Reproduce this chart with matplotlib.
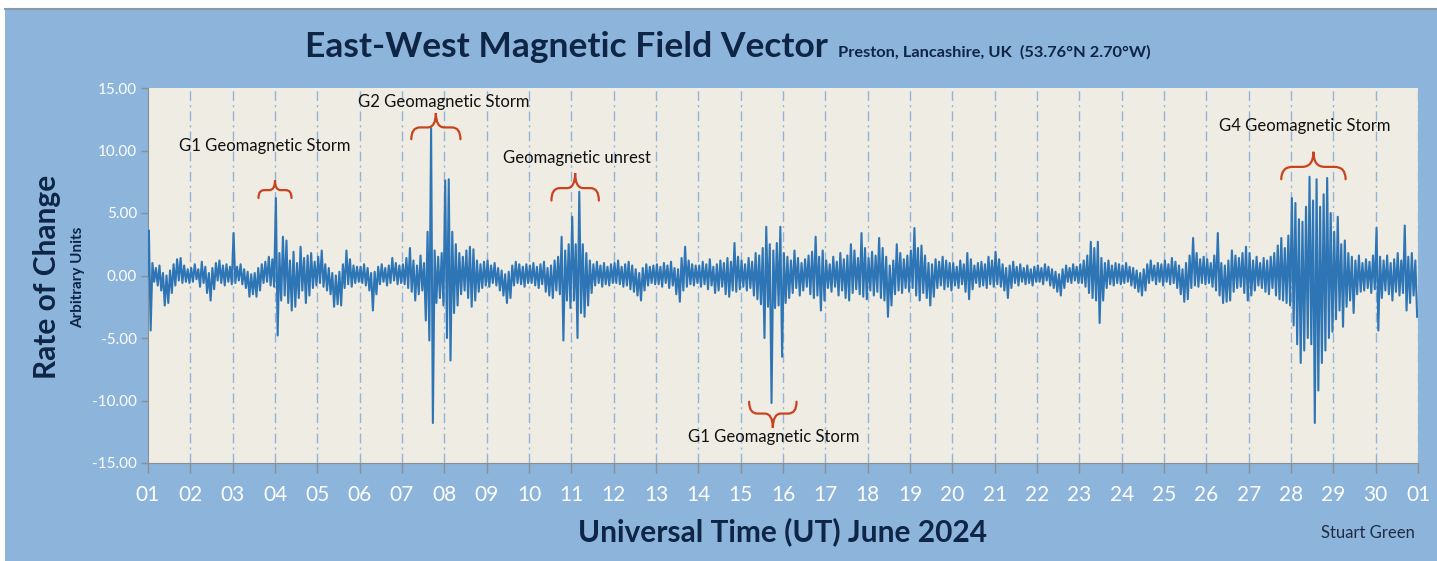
"""East-West magnetic field rate of change, Preston, June 2024."""

import matplotlib.pyplot as plt
import numpy as np
from matplotlib.patches import PathPatch, Rectangle
from matplotlib.path import Path


day_labels = [f"{d:02d}" for d in range(1, 31)] + ["01"]
y_ticks = [15, 10, 5, 0, -5, -10, -15]

# upper swing of the trace in each 2-hour slot (12 slots per day)
high = [
    [3.6, 1.0, 0.6, 0.8, 0.2, 0.0, 0.4, 0.9, 1.3, 1.4, 0.8, 0.5],    # 01
    [0.6, 0.9, 0.5, 1.1, 0.7, 0.2, 0.6, 1.0, 1.2, 0.8, 0.9, 0.7],    # 02
    [3.4, 0.7, 0.9, 0.5, 0.3, 0.1, 0.2, 0.6, 0.9, 1.1, 1.5, 1.3],    # 03
    [6.2, 1.8, 3.1, 2.8, 1.2, 1.9, 1.0, 2.3, 1.4, 1.6, 1.8, 1.1],    # 04
    [1.5, 2.0, 0.9, 0.6, 0.2, 0.0, 0.3, 0.9, 2.0, 1.3, 0.8, 0.7],    # 05
    [0.7, 0.9, 0.6, 0.2, 0.3, 0.7, 0.9, 0.6, 0.8, 1.4, 1.0, 0.8],    # 06
    [0.9, 1.4, 2.2, 1.2, 0.8, 1.6, 1.0, 3.5, 11.8, 2.0, 1.5, 1.8],   # 07
    [7.6, 7.7, 3.5, 2.5, 1.8, 1.5, 2.0, 2.3, 2.1, 1.2, 0.9, 1.1],    # 08
    [1.2, 0.8, 1.0, 0.6, 0.4, 0.1, 0.3, 0.8, 1.1, 0.9, 0.7, 0.9],    # 09
    [0.8, 1.0, 0.7, 0.9, 1.1, 0.6, 0.8, 1.2, 1.5, 3.1, 2.0, 2.5],    # 10
    [4.7, 2.5, 6.7, 2.5, 1.8, 1.2, 0.9, 1.1, 0.8, 1.0, 0.7, 0.9],    # 11
    [1.0, 1.2, 0.7, 0.9, 1.1, 0.8, 0.5, 0.2, 0.6, 0.9, 0.7, 0.8],    # 12
    [0.9, 0.7, 1.0, 0.8, 1.1, 0.6, 0.5, 1.4, 2.3, 1.2, 0.9, 0.8],    # 13
    [0.8, 1.1, 0.9, 1.3, 0.7, 0.9, 1.2, 1.0, 1.4, 1.1, 2.6, 1.5],    # 14
    [1.2, 0.9, 1.4, 1.1, 1.8, 1.6, 2.2, 3.9, 2.5, 2.0, 2.6, 3.9],    # 15
    [1.8, 1.5, 1.2, 2.0, 1.4, 1.0, 1.3, 1.6, 1.9, 3.1, 1.5, 2.0],    # 16
    [1.2, 0.9, 1.5, 1.1, 1.8, 1.3, 1.6, 2.5, 2.0, 1.4, 3.4, 2.2],    # 17
    [1.4, 1.9, 1.6, 3.0, 2.2, 1.5, 0.8, 1.2, 2.5, 1.8, 1.3, 1.6],    # 18
    [2.0, 3.8, 2.2, 2.4, 1.6, 1.0, 0.9, 1.3, 1.1, 1.5, 1.2, 1.0],    # 19
    [1.0, 0.7, 1.2, 0.9, 1.8, 1.3, 0.8, 1.0, 1.1, 0.9, 1.5, 1.2],    # 20
    [1.9, 1.3, 0.9, 0.6, 0.8, 1.1, 0.7, 0.9, 0.6, 0.8, 0.5, 0.7],    # 21
    [0.8, 0.6, 0.9, 0.7, 0.5, 0.3, 0.1, 0.5, 0.8, 0.6, 0.9, 0.7],    # 22
    [0.9, 1.2, 1.6, 2.7, 2.2, 2.7, 1.4, 1.0, 1.2, 0.8, 1.0, 0.9],    # 23
    [0.8, 1.0, 0.7, 0.6, 0.4, 0.2, 0.5, 0.9, 1.2, 0.8, 1.0, 0.9],    # 24
    [1.2, 0.9, 1.4, 1.1, 0.8, 0.5, 1.0, 1.6, 3.0, 1.8, 1.3, 1.5],    # 25
    [1.3, 1.0, 1.6, 3.4, 1.0, 0.8, 1.2, 2.0, 1.6, 1.4, 1.8, 2.3],    # 26
    [1.8, 1.2, 1.5, 1.0, 1.4, 1.2, 1.5, 1.8, 2.4, 3.0, 2.2, 3.2],    # 27
    [6.2, 5.8, 4.5, 4.3, 5.5, 7.9, 6.0, 7.7, 5.5, 6.5, 7.8, 5.0],    # 28
    [3.5, 4.7, 2.5, 2.8, 1.8, 1.5, 1.2, 1.6, 1.0, 1.3, 1.1, 1.6],    # 29
    [3.8, 1.5, 1.2, 1.6, 1.0, 1.3, 1.8, 1.2, 4.0, 1.5, 1.8, 1.2],    # 30
]

# lower swing of the trace in the same slots
low = [
    [-4.4, -0.5, -0.8, -1.2, -2.4, -2.2, -1.4, -0.8, -0.4, -0.6, -0.5, -0.6],
    [-0.5, -0.3, -0.9, -0.6, -1.4, -2.0, -1.1, -0.4, -0.6, -0.8, -0.5, -0.7],
    [-0.6, -0.4, -0.7, -1.0, -1.7, -1.5, -1.7, -1.2, -0.6, -0.5, -0.8, -0.9],
    [-4.8, -2.0, -1.6, -2.2, -2.8, -2.5, -1.8, -1.2, -2.2, -1.6, -1.0, -0.8],
    [-0.6, -0.9, -1.2, -1.5, -2.5, -2.3, -2.4, -1.0, -0.7, -0.9, -0.6, -0.5],
    [-0.6, -0.8, -1.2, -2.8, -1.5, -0.7, -0.5, -0.8, -0.6, -0.4, -0.7, -0.6],
    [-0.7, -1.0, -1.3, -2.0, -1.5, -1.2, -3.6, -5.2, -11.8, -2.2, -1.8, -2.4],
    [-5.0, -6.8, -3.0, -2.4, -1.5, -1.2, -1.8, -2.5, -2.0, -1.3, -1.0, -0.8],
    [-0.9, -0.6, -0.8, -1.2, -1.6, -2.2, -1.8, -0.8, -0.6, -0.7, -0.9, -0.6],
    [-0.6, -0.8, -1.0, -0.7, -1.3, -1.6, -1.8, -1.2, -1.5, -5.2, -2.0, -2.6],
    [-2.0, -5.0, -3.0, -3.3, -2.4, -1.4, -0.8, -0.6, -0.9, -0.7, -0.8, -0.6],
    [-0.6, -0.7, -0.9, -0.8, -1.1, -1.3, -1.6, -2.0, -1.2, -0.8, -0.6, -0.7],
    [-0.7, -0.9, -0.6, -1.0, -0.8, -1.5, -2.1, -1.2, -0.9, -0.7, -0.8, -0.6],
    [-0.9, -0.7, -1.1, -0.8, -1.4, -1.2, -0.9, -1.5, -1.7, -1.2, -1.3, -1.1],
    [-0.9, -1.2, -1.0, -1.6, -1.9, -2.3, -5.0, -2.5, -10.2, -2.6, -2.4, -6.5],
    [-2.2, -1.8, -1.4, -1.0, -1.6, -1.2, -0.9, -1.5, -1.8, -1.6, -2.8, -2.0],
    [-1.0, -1.3, -0.9, -1.6, -1.2, -1.8, -2.0, -1.4, -1.1, -1.5, -1.7, -1.9],
    [-1.2, -1.6, -1.3, -1.8, -2.0, -3.3, -2.4, -1.5, -1.2, -1.4, -1.0, -1.3],
    [-1.0, -1.6, -2.0, -1.4, -1.8, -2.4, -1.7, -1.0, -0.8, -1.1, -0.9, -1.2],
    [-0.8, -1.0, -0.7, -1.3, -1.9, -1.1, -0.6, -0.9, -0.8, -1.0, -0.7, -0.9],
    [-0.7, -0.9, -1.2, -1.8, -1.0, -0.6, -0.8, -0.5, -0.7, -0.6, -0.8, -0.5],
    [-0.5, -0.7, -0.4, -0.8, -1.0, -1.3, -1.6, -1.0, -0.5, -0.6, -0.4, -0.6],
    [-0.6, -0.9, -1.4, -1.8, -2.0, -3.8, -2.0, -1.0, -0.7, -0.8, -0.6, -0.7],
    [-0.6, -0.5, -0.8, -1.0, -1.3, -1.6, -1.2, -0.6, -0.4, -0.7, -0.5, -0.8],
    [-0.5, -0.7, -0.6, -1.0, -1.5, -2.1, -1.9, -1.0, -0.8, -0.9, -0.6, -0.7],
    [-0.6, -0.9, -1.2, -1.6, -2.2, -2.1, -2.0, -1.3, -1.0, -0.9, -1.4, -2.0],
    [-1.6, -1.2, -0.8, -1.0, -1.3, -1.5, -1.0, -1.6, -1.9, -2.0, -2.2, -2.4],
    [-4.0, -5.5, -7.0, -6.0, -5.0, -5.5, -11.8, -9.2, -7.0, -6.0, -5.0, -4.5],
    [-3.5, -2.8, -4.1, -2.5, -2.0, -3.0, -1.5, -1.3, -1.2, -1.0, -1.4, -1.1],
    [-4.4, -1.8, -1.2, -1.5, -2.0, -1.3, -1.6, -1.4, -2.8, -2.2, -1.6, -3.3],
]

event_labels = [
    "G1 Geomagnetic Storm",
    "G2 Geomagnetic Storm",
    "Geomagnetic unrest",
    "G1 Geomagnetic Storm",
    "G4 Geomagnetic Storm",
]

NAVY = "#0e2545"
BLUE_BG = "#8db4da"
PLOT_BG = "#efece3"
TRACE = "#2e75b6"
BRACE = "#c8431e"
GRID = "#93b3d8"

plt.rcParams["font.family"] = ["Lato", "DejaVu Sans"]

W, H = 1437, 561
SLOTS = 12


def fx(px):
    return px / W


def fy(py):
    return 1 - py / H


def draw_brace(ax, cx, half, y_end, y_tip, color):
    """Curly brace centred on cx, tip at y_tip, ends at y_end."""
    y_mid = y_end + 0.45 * (y_tip - y_end)
    r = half * 0.35
    verts = [
        (cx - half, y_end), (cx - half, y_mid), (cx - half + r, y_mid),
        (cx - r, y_mid),
        (cx, y_mid), (cx, y_tip),
        (cx, y_mid), (cx + r, y_mid),
        (cx + half - r, y_mid),
        (cx + half, y_mid), (cx + half, y_end),
    ]
    codes = [Path.MOVETO, Path.CURVE3, Path.CURVE3, Path.LINETO,
             Path.CURVE3, Path.CURVE3, Path.CURVE3, Path.CURVE3,
             Path.LINETO, Path.CURVE3, Path.CURVE3]
    ax.add_patch(PathPatch(Path(verts, codes), fill=False, edgecolor=color,
                           lw=1.6, capstyle="round", zorder=4))


fig = plt.figure(figsize=(W / 100, H / 100), dpi=100)
fig.patch.set_facecolor("white")
fig.add_artist(Rectangle((fx(5), 0), 1, fy(9), transform=fig.transFigure,
                         facecolor=BLUE_BG, edgecolor="none", zorder=0))
fig.add_artist(plt.Line2D([fx(5), 1], [fy(9), fy(9)], transform=fig.transFigure,
                          color="#8c9aa8", lw=1.5, zorder=1))

ax = fig.add_axes([fx(148), fy(463), fx(1418) - fx(148), fy(88) - fy(463)])
ax.set_facecolor(PLOT_BG)

# zig-zag the slot highs and lows into one trace
hi = np.array(high).ravel()
lo = np.array(low).ravel()
slot_len = 1 / SLOTS
slot_start = 1 + np.arange(hi.size) * slot_len
x = np.column_stack([slot_start + 0.25 * slot_len,
                     slot_start + 0.75 * slot_len]).ravel()
y = np.column_stack([hi, lo]).ravel()
x = np.concatenate([[1.0], x])
y = np.concatenate([[0.0], y])
ax.plot(x, y, color=TRACE, lw=1.5, zorder=3)

ax.set_xlim(1, 31)
ax.set_ylim(-15, 15)
ticks_x = np.arange(1, 32)
ax.set_xticks(ticks_x)
ax.set_xticklabels(day_labels)
ax.set_yticks(y_ticks)
ax.set_yticklabels([f"{v:.2f}" for v in y_ticks])
for d in ticks_x[1:]:
    ax.axvline(d, color=GRID, lw=1.0, ls=(0, (7, 3, 1.5, 3)), zorder=1)

for side in ("top", "right"):
    ax.spines[side].set_visible(False)
for side in ("left", "bottom"):
    ax.spines[side].set_color("#8a8f96")
ax.tick_params(axis="x", colors="#8a8f96", length=7, width=1, labelcolor="white",
               labelsize=15, pad=9)
ax.tick_params(axis="y", colors="#8a8f96", length=5, width=1, labelcolor="white",
               labelsize=11, pad=3)

# event annotations: brace plus label
draw_brace(ax, 4.00, 0.39, 6.2, 7.6, BRACE)
draw_brace(ax, 7.80, 0.58, 10.9, 13.0, BRACE)
draw_brace(ax, 11.09, 0.56, 6.0, 8.2, BRACE)
draw_brace(ax, 15.76, 0.56, -10.1, -12.2, BRACE)
draw_brace(ax, 28.53, 0.76, 7.7, 9.9, BRACE)
label_pos = [(3.76, 10.4), (7.98, 13.9), (11.13, 9.4), (15.77, -12.9), (28.33, 12.0)]
for text, (lx, ly) in zip(event_labels, label_pos):
    ax.text(lx, ly, text, ha="center", va="center", fontsize=12, color="#111111",
            zorder=5)

fig.text(fx(305), fy(57), "East-West Magnetic Field Vector", ha="left",
         va="baseline", fontsize=25.5, weight="bold", color=NAVY)
fig.text(fx(838), fy(57), "Preston, Lancashire, UK  (53.76\u00b0N 2.70\u00b0W)",
         ha="left", va="baseline", fontsize=11.8, weight="bold", color=NAVY)
fig.text(fx(47.5), fy(277), "Rate of Change", rotation=90, ha="center", va="center",
         fontsize=21.5, weight="bold", color=NAVY)
fig.text(fx(78), fy(277), "Arbitrary Units", rotation=90, ha="center", va="center",
         fontsize=11, weight="bold", color=NAVY)
fig.text(fx(783), fy(541), "Universal Time (UT) June 2024", ha="center",
         va="baseline", fontsize=21.5, weight="bold", color=NAVY)
fig.text(fx(1368), fy(538), "Stuart Green", ha="center", va="baseline",
         fontsize=12, color="#1f2d44")

fig.savefig("out.png", dpi=100, facecolor=fig.get_facecolor())
